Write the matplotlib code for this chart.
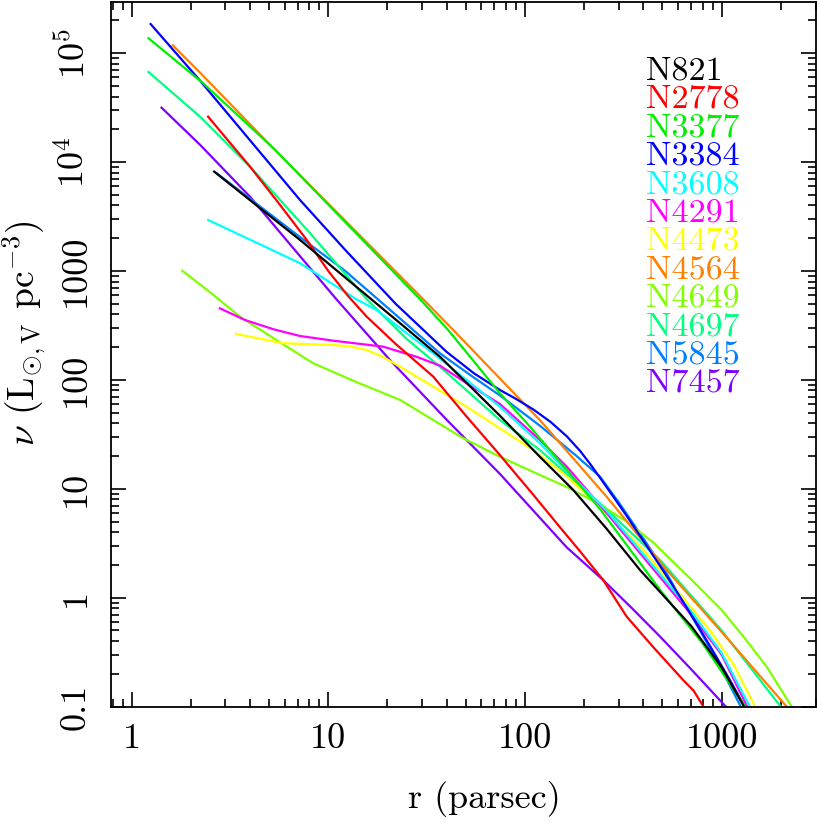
import matplotlib
matplotlib.use("Agg")
import matplotlib.pyplot as plt

plt.rcParams['font.family'] = 'serif'
plt.rcParams['font.serif'] = ['cmr10', 'DejaVu Serif']
plt.rcParams['mathtext.fontset'] = 'cm'
plt.rcParams['axes.unicode_minus'] = False

# ---- data (r in parsec, nu in L_sun,V pc^-3) ----
galaxies = ['N821', 'N2778', 'N3377', 'N3384', 'N3608', 'N4291',
            'N4473', 'N4564', 'N4649', 'N4697', 'N5845', 'N7457']
colors = ['#000000', '#ff0000', '#00ee00', '#0000ff', '#00ffff', '#ff00ff',
          '#ffff00', '#ff8000', '#80ff00', '#00ff80', '#0080ff', '#8000ff']

r_N821 = [2.63, 4.3, 7.18, 23.2, 37, 74.6, 119, 176, 260, 384, 700, 1000, 1300]
nu_N821 = [8170, 4030, 1930, 331, 163, 46.9, 19.7, 9.75, 4.3, 1.80, 0.55, 0.23, 0.1]

r_N2778 = [2.45, 4.0, 5.5, 7.77, 10, 12.6, 15.7, 22, 34.2, 50, 74.6, 110, 150.7,
           187, 250, 329, 450, 638, 720, 808]
nu_N2778 = [26100, 9080, 4370, 1930, 1000, 590, 380, 214, 107, 47, 20.4, 8.85, 4.43,
            2.78, 1.45, 0.67, 0.35, 0.175, 0.14, 0.1]

r_N3377 = [1.22, 2.31, 5.36, 12, 29.3, 40.7, 74.6, 106, 241, 486, 800, 1320]
nu_N3377 = [137000, 53000, 13000, 2900, 550, 287, 75.4, 37.2, 6.5, 1.18, 0.38, 0.1]

r_N3384 = [1.25, 2.23, 7.18, 12.2, 22, 39.8, 55, 74.6, 89.1, 110, 135, 163, 191,
           214, 241, 282, 329, 398, 486, 589, 718, 891, 1096, 1309]
nu_N3384 = [185000, 55900, 4490, 1560, 500, 182, 115, 80.8, 67.6, 53.7, 41.1, 30.4,
            22.2, 17.0, 12.6, 8.41, 5.64, 3.37, 1.96, 1.15, 0.647, 0.338, 0.178, 0.1]

r_N3608 = [2.45, 7.18, 13.9, 17.6, 34.2, 74.6, 119, 163, 260, 700, 1000, 1390]
nu_N3608 = [2940, 1180, 550, 438, 175, 56.7, 26.2, 14.5, 6.3, 0.75, 0.31, 0.1]

r_N4291 = [2.81, 3.77, 5.25, 7.18, 10.6, 19.0, 28.1, 37, 50.5, 74.6, 119, 163, 260,
           700, 1000, 1349]
nu_N4291 = [454, 355, 292, 253, 229, 202, 163, 135, 93.1, 60, 28.1, 16.0, 6.0,
            0.7, 0.3, 0.1]

r_N4473 = [3.40, 5.90, 10.6, 12.9, 15.7, 19.0, 23.2, 34.2, 50.5, 74.6, 110, 160, 241,
           400, 873, 1150, 1480]
nu_N4473 = [264, 217, 209, 203, 188, 162, 132, 86.7, 56.7, 35.9, 22.7, 13.4, 6.85,
            2.75, 0.5, 0.244, 0.1]

r_N4564 = [1.62, 2.23, 5.36, 30.4, 43.2, 119, 260, 525, 1060, 2140]
nu_N4564 = [118000, 66200, 12900, 550, 287, 42.8, 8.46, 1.80, 0.43, 0.1]

r_N4649 = [1.81, 2.5, 3.56, 5.6, 8.39, 14, 23.2, 48.6, 74.6, 119, 163, 240, 329, 450,
           614, 703, 1000, 1290, 1700, 2270]
nu_N4649 = [1006, 640, 380, 225, 142, 95, 65.4, 29.1, 19.7, 13.4, 10.4, 7.2, 5.0, 3.2,
            1.85, 1.46, 0.77, 0.44, 0.23, 0.1]

r_N4697 = [1.22, 2.23, 4.0, 8.0, 15.7, 25, 37, 74.6, 119, 250, 486, 1000, 1995]
nu_N4697 = [67100, 26100, 9080, 2270, 550, 238, 132, 42.8, 22.7, 6.9, 2.22, 0.5, 0.1]

r_N5845 = [2.71, 7.18, 12.2, 20.6, 37, 55, 74.6, 119, 180, 241, 300, 384, 520, 776,
           1000, 1250]
nu_N5845 = [7890, 2050, 1000, 440, 175, 105, 72, 38, 20.5, 12.9, 7.5, 3.9, 1.72, 0.5,
            0.22, 0.1]

r_N7457 = [1.42, 2.23, 4.0, 6.5, 11.0, 20.6, 40, 74.6, 163, 250, 350, 486, 700, 1050]
nu_N7457 = [31600, 14400, 4810, 1694, 550, 152, 43, 13.7, 2.9, 1.45, 0.8, 0.44, 0.22, 0.1]

radii = [r_N821, r_N2778, r_N3377, r_N3384, r_N3608, r_N4291,
         r_N4473, r_N4564, r_N4649, r_N4697, r_N5845, r_N7457]
densities = [nu_N821, nu_N2778, nu_N3377, nu_N3384, nu_N3608, nu_N4291,
             nu_N4473, nu_N4564, nu_N4649, nu_N4697, nu_N5845, nu_N7457]

x_ticks = [1, 10, 100, 1000]
x_ticklabels = ['1', '10', '100', '1000']
y_ticks = [0.1, 1, 10, 100, 1000, 1e4, 1e5]
y_ticklabels = ['0.1', '1', '10', '100', '1000', r'$10^4$', r'$10^5$']

# ---- figure ----
W, H = 817, 826
fig = plt.figure(figsize=(W / 100, H / 100), dpi=100)
L, R, B, T = 111, 815.5, 706.6, 2
ax = fig.add_axes([L / W, (H - B) / H, (R - L) / W, (B - T) / H])
ax.set_xscale('log')
ax.set_yscale('log')

# draw in reverse order so that the first galaxies sit on top
for name, col, r, nu in list(zip(galaxies, colors, radii, densities))[::-1]:
    ax.plot(r, nu, color=col, lw=1.6, solid_joinstyle='round')

ax.set_xlim(0.786, 3000)
ax.set_ylim(0.1, 2.95e5)

ax.set_xticks(x_ticks)
ax.set_xticklabels(x_ticklabels)
ax.set_yticks(y_ticks)
ax.set_yticklabels(y_ticklabels, rotation=90, va='center')

for s in ax.spines.values():
    s.set_linewidth(1.3)
ax.tick_params(which='both', direction='in', top=True, right=True, width=1.2)
ax.tick_params(which='major', length=11, labelsize=26)
ax.tick_params(which='minor', length=5.8)
ax.tick_params(axis='x', which='major', pad=12)
ax.tick_params(axis='y', which='major', pad=14)

ax.set_xlabel('r (parsec)', fontsize=26)
ax.xaxis.set_label_coords(0.53, -0.105)
ax.set_ylabel(r'$\nu$ (L$_{\odot,\mathrm{V}}$ pc$^{-3}$)', fontsize=27)
ax.yaxis.set_label_coords(-0.0895, 0.53)

# legend as coloured labels
x0 = (646 - L) / (R - L)
y0 = (B - 71) / (B - T)
dy = 28.4 / (B - T)
for i, (name, col) in enumerate(zip(galaxies, colors)):
    ax.text(x0, y0 - i * dy, name, color=col, fontsize=24.5,
            transform=ax.transAxes, ha='left', va='center')

fig.savefig('out.png', dpi=100)
